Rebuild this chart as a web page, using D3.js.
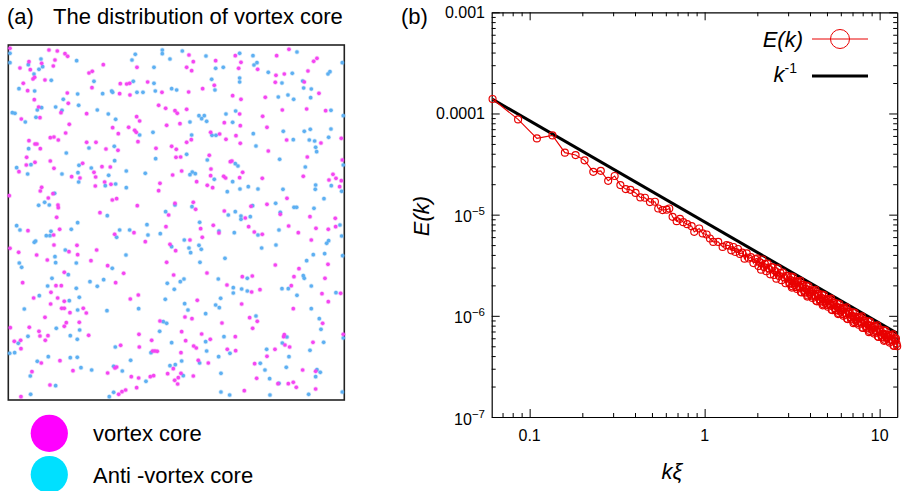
<!DOCTYPE html>
<html><head><meta charset="utf-8">
<script src="https://cdn.jsdelivr.net/npm/d3@7"></script>
<style>
body{margin:0;background:#fff}
svg{display:block}
text{font-family:"Liberation Sans",Arial,Helvetica,sans-serif;fill:#000}
</style>
</head><body>
<svg id="chart" width="902" height="491"></svg>
<script>
// ---- Panel (a): vortex core positions in box units (0..1008 x 0..1065) ----
const vortexCores = [[5,10],[122,15],[147,18],[170,26],[178,34],[100,55],[62,50],[35,69],[66,74],[135,63],[140,45],[74,102],[79,97],[110,105],[45,115],[58,137],[242,84],[252,79],[285,59],[251,128],[177,144],[180,175],[78,164],[91,186],[158,203],[39,222],[95,218],[235,206],[313,248],[330,266],[336,116],[355,117],[364,115],[365,150],[334,146],[418,111],[386,67],[461,142],[451,181],[472,190],[475,241],[385,215],[394,228],[361,247],[379,256],[384,262],[389,290],[183,238],[172,264],[126,278],[137,276],[150,285],[62,287],[80,297],[86,297],[96,311],[235,292],[263,292],[293,312],[329,316],[55,337],[54,360],[80,352],[32,380],[126,348],[137,370],[190,395],[223,355],[257,382],[262,396],[215,399],[281,365],[306,366],[443,310],[100,427],[96,438],[134,446],[120,459],[149,480],[150,488],[3,452],[261,423],[289,411],[308,418],[455,415],[451,437],[387,482],[325,461],[312,465],
[542,30],[555,50],[535,67],[550,77],[622,47],[681,32],[698,52],[691,70],[748,73],[805,32],[842,13],[916,49],[926,40],[899,78],[828,87],[803,91],[801,112],[888,111],[618,121],[583,131],[541,141],[673,152],[698,163],[771,157],[932,145],[500,197],[507,205],[535,193],[515,236],[648,233],[694,207],[696,242],[763,214],[776,247],[822,195],[895,192],[952,197],[607,262],[634,267],[549,284],[535,292],[653,283],[683,272],[696,295],[835,285],[938,294],[999,280],[490,304],[504,313],[503,337],[517,336],[603,331],[780,318],[666,350],[671,348],[608,372],[607,392],[646,394],[652,399],[694,398],[703,382],[493,390],[520,378],[565,410],[597,421],[613,428],[762,400],[897,336],[885,394],[962,405],[974,388],[983,400],[994,425],[999,407],[1002,345],[836,460],[500,475],[555,472],[562,493],[728,484],[776,478],
[145,517],[275,503],[481,510],[59,557],[136,570],[154,553],[5,610],[31,622],[137,600],[85,630],[182,620],[206,601],[208,629],[117,645],[265,615],[248,647],[43,713],[168,682],[143,722],[159,722],[128,742],[76,759],[148,759],[168,769],[127,777],[160,790],[168,790],[185,803],[225,790],[234,804],[298,662],[346,685],[322,713],[319,568],[377,563],[411,590],[473,545],[475,652],[366,762],[390,750],[110,817],[174,833],[168,844],[213,832],[241,871],[6,848],[63,847],[92,859],[95,873],[119,872],[111,886],[18,889],[37,886],[38,911],[392,868],[393,906],[430,886],[455,828],[337,901],[433,918],[440,918],[447,919],[99,954],[155,947],[194,977],[320,969],[325,966],[298,984],[369,995],[391,999],[426,995],[436,992],[478,986],[71,980],[125,1020],[38,1055],[331,1048],[341,1040],[352,1035],[385,1028],
[648,498],[711,519],[816,508],[905,515],[981,520],[982,545],[960,553],[923,550],[841,543],[870,563],[615,541],[577,551],[632,564],[721,545],[738,561],[762,568],[545,585],[582,577],[485,598],[502,617],[909,585],[959,658],[801,660],[872,671],[857,695],[849,722],[950,700],[941,746],[960,770],[997,745],[496,690],[596,684],[656,720],[702,695],[732,693],[730,741],[755,734],[700,777],[567,766],[530,816],[551,821],[724,818],[747,829],[733,850],[855,791],[641,834],[681,875],[520,860],[532,887],[580,867],[606,883],[556,903],[564,909],[657,913],[682,917],[518,923],[570,946],[600,954],[495,971],[518,985],[510,998],[508,1017],[499,1006],[555,993],[708,1037],[922,1032],[809,1016],[840,1016],[855,1012],[864,1027],[745,1000],[739,956],[776,934],[800,913],[830,900],[826,875],[844,906],[828,869],[914,892],[883,975],[922,979],[1005,868],[943,835]];

const antiVortexCores = [[5,25],[5,53],[205,47],[98,42],[103,65],[60,59],[92,73],[77,87],[129,106],[32,131],[79,138],[257,109],[208,147],[165,163],[211,181],[100,188],[87,195],[142,186],[161,196],[12,203],[20,205],[51,231],[83,217],[267,195],[300,207],[322,223],[375,109],[386,142],[404,142],[310,138],[313,142],[283,146],[437,115],[437,67],[371,45],[381,28],[462,15],[462,26],[441,138],[394,270],[434,262],[61,311],[174,324],[242,309],[318,304],[68,359],[25,368],[58,387],[161,387],[212,361],[249,369],[209,383],[211,411],[319,347],[301,391],[354,378],[411,385],[442,341],[139,445],[109,472],[91,481],[123,480],[291,422],[322,417],[354,428],
[485,42],[522,18],[593,33],[622,70],[645,67],[694,25],[734,32],[737,60],[746,53],[866,21],[1002,53],[959,87],[965,80],[852,85],[780,82],[821,114],[883,108],[610,103],[620,135],[694,99],[694,111],[505,135],[490,131],[810,156],[839,150],[856,163],[886,129],[909,132],[907,158],[545,231],[572,212],[580,221],[588,212],[595,229],[653,207],[673,232],[682,198],[968,196],[1005,212],[825,259],[888,259],[906,253],[968,252],[611,271],[623,271],[550,270],[735,266],[743,303],[855,284],[903,285],[919,288],[961,277],[922,307],[925,320],[535,328],[597,345],[681,356],[689,363],[618,403],[673,410],[545,389],[552,381],[561,386],[720,425],[749,432],[695,432],[657,440],[814,343],[891,366],[922,420],[921,433],[969,422],[1000,439],[1005,360],[824,433],[947,461],[500,480],[551,485],[733,482],[802,475],[857,487],[865,487],[917,490],
[297,512],[472,500],[25,542],[35,555],[114,572],[125,572],[128,559],[189,553],[208,533],[78,592],[82,588],[140,635],[171,615],[204,654],[142,653],[33,654],[40,667],[131,700],[180,689],[118,723],[93,752],[183,767],[48,792],[208,795],[213,757],[204,730],[245,710],[267,724],[286,704],[312,670],[353,630],[325,577],[334,555],[364,555],[416,539],[419,570],[456,566],[477,715],[471,763],[391,791],[296,797],[144,850],[214,855],[186,872],[207,883],[59,874],[30,895],[19,923],[4,925],[465,830],[475,835],[454,859],[321,906],[367,946],[428,923],[120,935],[87,949],[186,938],[207,937],[218,968],[250,975],[316,964],[342,978],[413,1009],[66,993],[142,1022],[67,1048],[303,1055],[316,1042],
[660,510],[681,500],[698,513],[698,523],[726,515],[816,502],[995,540],[1000,573],[812,555],[574,532],[632,558],[749,570],[678,563],[528,585],[572,601],[579,613],[490,605],[542,609],[547,623],[760,609],[803,600],[955,595],[961,587],[1003,632],[949,626],[915,629],[895,647],[885,692],[888,700],[821,731],[840,731],[866,751],[909,723],[983,743],[498,733],[516,710],[527,702],[575,652],[630,702],[675,728],[675,744],[700,732],[717,700],[717,738],[650,640],[529,776],[539,795],[622,780],[633,788],[637,760],[592,806],[743,813],[909,791],[647,875],[592,890],[595,918],[490,893],[665,925],[631,935],[520,948],[574,954],[501,959],[485,962],[525,992],[638,985],[638,1041],[664,1050],[785,1050],[901,1048],[1002,1041],[812,1015],[784,1001],[756,955],[770,975],[775,913],[822,894],[836,876],[842,935],[834,967],[905,916],[946,892],[926,974],[922,995],[936,982],[1005,879],[938,853],[933,821]];

const boxSize = [1008, 1065];
const legendA = ["vortex core", "Anti -vortex core"];

// ---- Panel (b): energy spectrum E(k) versus k*xi ----
const kXi = [0.0614,0.0859,0.110,0.135,0.159,0.183,0.206,0.231,0.255,0.281,0.306,0.330,0.354,0.377,0.403,0.429,0.456,0.487,0.520,0.543,0.575,0.607,0.628,0.656,0.692,0.723,0.755,0.795,0.843,0.872,0.931,0.974,1.027,1.072,1.120,1.196,1.267,1.336,
1.38,1.42,1.46,1.50,1.55,1.59,1.64,1.69,1.74,1.79,1.84,1.90,1.95,
2.00,2.03,2.07,2.10,2.14,2.18,2.21,2.25,2.29,2.33,2.37,2.41,2.45,2.49,2.53,2.57,2.62,2.66,2.71,2.75,2.80,2.85,2.90,2.94,2.99,
3.05,3.07,3.10,3.12,3.15,3.17,3.20,3.23,3.26,3.28,3.31,3.34,3.37,3.40,3.43,3.46,3.49,3.52,3.55,3.58,3.61,3.64,3.67,3.70,3.73,3.76,3.79,3.82,3.86,3.89,3.92,3.95,3.99,4.02,
4.06,4.09,4.13,4.16,4.20,4.23,4.27,4.30,4.34,4.38,4.42,4.45,4.49,4.53,4.57,4.61,4.65,4.69,4.73,4.77,4.81,4.85,4.89,4.93,4.97,5.01,
5.06,5.10,5.14,5.18,5.23,5.27,5.32,5.36,5.41,5.45,5.50,5.55,5.60,5.64,5.69,5.74,5.79,5.84,5.89,5.94,5.99,6.04,
6.09,6.14,6.20,6.25,6.30,6.35,6.41,6.46,6.52,6.57,6.63,6.68,6.74,6.80,6.86,6.91,6.97,7.03,
7.09,7.15,7.21,7.27,7.34,7.40,7.46,7.52,7.59,7.65,7.72,7.78,7.85,7.91,7.98,8.05,
8.12,8.19,8.26,8.33,8.40,8.47,8.54,8.61,8.69,8.76,8.83,8.90,8.98,9.06,
9.14,9.21,9.29,9.37,9.45,9.53,9.61,9.69,9.78,9.86,9.94,10.0,
10.1,10.2,10.3,10.4,10.5,10.55,10.6,10.7,10.8,10.9,11.0,11.1,11.2,11.3,11.4,11.5,11.6,11.7,11.8,11.9,12.0,12.1,12.2,12.3,12.4,12.5,12.6];
const energy = [1.39e-4,8.74e-5,5.67e-5,6.07e-5,4.10e-5,3.88e-5,3.44e-5,2.65e-5,2.71e-5,2.16e-5,2.41e-5,1.96e-5,1.79e-5,1.76e-5,1.64e-5,1.48e-5,1.47e-5,1.33e-5,1.34e-5,1.15e-5,1.11e-5,1.12e-5,1.15e-5,9.51e-6,8.62e-6,9.09e-6,8.43e-6,8.05e-6,7.70e-6,6.76e-6,7.30e-6,6.52e-6,6.37e-6,5.81e-6,5.38e-6,5.38e-6,4.80e-6,4.99e-6,
4.93e-6,4.44e-6,4.79e-6,4.27e-6,4.58e-6,4.09e-6,4.21e-6,3.67e-6,4.14e-6,3.69e-6,3.80e-6,3.32e-6,3.64e-6,
3.70e-6,3.10e-6,3.38e-6,2.86e-6,3.60e-6,3.03e-6,3.26e-6,2.76e-6,3.28e-6,2.92e-6,2.57e-6,3.03e-6,3.02e-6,2.53e-6,2.77e-6,2.33e-6,2.94e-6,2.48e-6,2.66e-6,2.25e-6,2.68e-6,2.39e-6,2.10e-6,2.48e-6,2.47e-6,
2.07e-6,2.12e-6,2.26e-6,2.44e-6,1.90e-6,1.96e-6,2.41e-6,2.20e-6,2.02e-6,2.10e-6,2.18e-6,1.92e-6,1.84e-6,2.15e-6,2.19e-6,1.94e-6,1.95e-6,2.22e-6,1.72e-6,1.70e-6,2.02e-6,1.92e-6,2.02e-6,1.78e-6,1.69e-6,1.73e-6,1.85e-6,1.99e-6,1.55e-6,1.59e-6,1.96e-6,1.80e-6,1.65e-6,1.72e-6,
1.77e-6,1.56e-6,1.50e-6,1.75e-6,1.79e-6,1.58e-6,1.59e-6,1.81e-6,1.41e-6,1.39e-6,1.65e-6,1.57e-6,1.65e-6,1.46e-6,1.38e-6,1.41e-6,1.51e-6,1.62e-6,1.27e-6,1.30e-6,1.60e-6,1.46e-6,1.35e-6,1.40e-6,1.45e-6,1.28e-6,
1.23e-6,1.43e-6,1.46e-6,1.29e-6,1.30e-6,1.48e-6,1.15e-6,1.14e-6,1.35e-6,1.28e-6,1.35e-6,1.19e-6,1.13e-6,1.15e-6,1.23e-6,1.32e-6,1.04e-6,1.06e-6,1.31e-6,1.20e-6,1.10e-6,1.14e-6,
1.18e-6,1.04e-6,1.00e-6,1.17e-6,1.19e-6,1.06e-6,1.06e-6,1.21e-6,9.36e-7,9.28e-7,1.10e-6,1.05e-6,1.10e-6,9.71e-7,9.18e-7,9.41e-7,1.00e-6,1.08e-6,
8.46e-7,8.67e-7,1.07e-6,9.77e-7,8.99e-7,9.32e-7,9.65e-7,8.51e-7,8.17e-7,9.54e-7,9.72e-7,8.61e-7,8.66e-7,9.86e-7,7.64e-7,7.58e-7,
8.99e-7,8.55e-7,8.96e-7,7.92e-7,7.50e-7,7.67e-7,8.20e-7,8.83e-7,6.90e-7,7.08e-7,8.72e-7,7.98e-7,7.35e-7,7.62e-7,
7.88e-7,6.95e-7,6.67e-7,7.79e-7,7.94e-7,7.03e-7,7.08e-7,8.05e-7,6.24e-7,6.19e-7,7.34e-7,7.00e-7,
7.33e-7,6.47e-7,6.12e-7,6.25e-7,6.67e-7,7.20e-7,5.66e-7,5.79e-7,7.13e-7,6.51e-7,6.00e-7,6.22e-7,6.43e-7,5.66e-7,5.44e-7,6.35e-7,6.47e-7,5.73e-7,5.76e-7,6.55e-7,5.08e-7,5.04e-7,5.98e-7,5.69e-7,5.97e-7,5.28e-7,5.00e-7];

// k^-1 reference line
const refK = [0.0614, 12.6];
const refE = [1.38e-4, 6.72e-7];

const xMajorTicks = [0.1, 1, 10];
const xTickLabels = ["0.1", "1", "10"];
const yMajorTicks = [1e-3, 1e-4, 1e-5, 1e-6, 1e-7];
const yTickLabels = [["0.001"], ["0.0001"], ["10", "\u22125"], ["10", "\u22126"], ["10", "\u22127"]];

const svg = d3.select("#chart");

// ================= Panel (a) =================
const ax = d3.scaleLinear().domain([0, boxSize[0]]).range([8.3, 344.3]);
const ay = d3.scaleLinear().domain([0, boxSize[1]]).range([45, 400]);

svg.append("text").attr("x", 7).attr("y", 24).attr("font-size", 22).text("(a)");
svg.append("text").attr("x", 53).attr("y", 24).attr("font-size", 22).text("The distribution of vortex core");

const gA = svg.append("g");
gA.append("rect")
  .attr("x", ax(0)).attr("y", ay(0))
  .attr("width", ax(boxSize[0]) - ax(0)).attr("height", ay(boxSize[1]) - ay(0))
  .attr("fill", "#fff").attr("stroke", "#222").attr("stroke-width", 1.6);

function drawCores(data, color) {
  gA.append("g").selectAll("circle").data(data).join("circle")
    .attr("cx", d => ax(d[0])).attr("cy", d => ay(d[1]))
    .attr("r", 1.8)
    .attr("fill", color)
    .attr("stroke", color).attr("stroke-opacity", 0.3).attr("stroke-width", 1.4);
}
drawCores(antiVortexCores, "#5eb0f2");
drawCores(vortexCores, "#f446f2");

// legend
const legColors = ["#ff00ff", "#00e0ff"];
const legY = [433.3, 474.5];
const legBase = [440.5, 482.5];
legendA.forEach((t, i) => {
  svg.append("circle").attr("cx", 49.3).attr("cy", legY[i]).attr("r", 18.6).attr("fill", legColors[i]);
  svg.append("text").attr("x", 93).attr("y", legBase[i]).attr("font-size", 22).text(t);
});

// ================= Panel (b) =================
const x = d3.scaleLog().domain([0.0607, 12.6]).range([491.7, 897.2]);
const y = d3.scaleLog().domain([1e-7, 1e-3]).range([417, 12.3]);
const [x0, x1] = x.range();
const [y0, y1] = y.range();

svg.append("text").attr("x", 401).attr("y", 24).attr("font-size", 22).text("(b)");

const isDecade = v => Math.abs(Math.log10(v) - Math.round(Math.log10(v))) < 1e-6;
const xMinor = x.ticks().filter(v => !isDecade(v));
const yMinor = y.ticks().filter(v => !isDecade(v));

function drawAxis(axisFn, scale, tx, ty, majors, minors) {
  const gMin = svg.append("g").attr("transform", `translate(${tx},${ty})`)
    .call(axisFn(scale).tickValues(minors).tickSizeInner(-4).tickSizeOuter(0).tickFormat(""));
  gMin.select(".domain").remove();
  const gMaj = svg.append("g").attr("transform", `translate(${tx},${ty})`)
    .call(axisFn(scale).tickValues(majors).tickSizeInner(-8).tickSizeOuter(0).tickFormat(""));
  [gMin, gMaj].forEach(g => {
    g.selectAll("line").attr("stroke", "#000").attr("stroke-width", 1);
    g.selectAll(".domain").attr("stroke", "#000").attr("stroke-width", 1.2);
  });
}
drawAxis(d3.axisBottom, x, 0, y0, xMajorTicks, xMinor);
drawAxis(d3.axisTop, x, 0, y1, xMajorTicks, xMinor);
drawAxis(d3.axisLeft, y, x0, 0, yMajorTicks, yMinor);
drawAxis(d3.axisRight, y, x1, 0, yMajorTicks, yMinor);

// tick labels
xMajorTicks.forEach((v, i) => {
  svg.append("text").attr("x", x(v)).attr("y", 441).attr("text-anchor", "middle")
    .attr("font-size", 16).text(xTickLabels[i]);
});
yMajorTicks.forEach((v, i) => {
  const lab = yTickLabels[i];
  const t = svg.append("text").attr("x", 485).attr("text-anchor", "end").attr("font-size", 16);
  if (lab.length === 1) {
    t.attr("y", y(v) + 5.5).text(lab[0]);
  } else {
    t.attr("y", y(v) + 7.6);
    t.append("tspan").text(lab[0]);
    t.append("tspan").attr("dy", -7).attr("font-size", 11.5).text(lab[1]);
  }
});

// axis titles
svg.append("text").attr("x", 672).attr("y", 479).attr("text-anchor", "middle")
  .attr("font-size", 22).attr("font-style", "italic").text("k\u03BE");
svg.append("text").attr("transform", "translate(429,216) rotate(-90)").attr("text-anchor", "middle")
  .attr("font-size", 22).attr("font-style", "italic").text("E(k)");

// plotted series
const plot = svg.append("g");
const logLine = d3.line().x(d => x(d[0])).y(d => y(d[1]));
plot.append("path").datum(refK.map((k, i) => [k, refE[i]]))
  .attr("d", logLine).attr("fill", "none").attr("stroke", "#000").attr("stroke-width", 3);

const spec = kXi.map((k, i) => [k, energy[i]]);
plot.append("path").datum(spec).attr("d", logLine)
  .attr("fill", "none").attr("stroke", "#e80000").attr("stroke-width", 1.1);
plot.append("g").selectAll("circle").data(spec).join("circle")
  .attr("cx", d => x(d[0])).attr("cy", d => y(d[1])).attr("r", 3.5)
  .attr("fill", "none").attr("stroke", "#e80000").attr("stroke-width", 1.15);

// legend (b)
svg.append("text").attr("x", 803).attr("y", 47).attr("text-anchor", "end")
  .attr("font-size", 22).attr("font-style", "italic").text("E(k)");
svg.append("line").attr("x1", 812).attr("x2", 868).attr("y1", 39).attr("y2", 39)
  .attr("stroke", "#e80000").attr("stroke-width", 1);
svg.append("circle").attr("cx", 840).attr("cy", 39).attr("r", 9.5)
  .attr("fill", "none").attr("stroke", "#e80000").attr("stroke-width", 1);
const kt = svg.append("text").attr("x", 797).attr("y", 81.5).attr("text-anchor", "end").attr("font-size", 22);
kt.append("tspan").attr("font-style", "italic").text("k");
kt.append("tspan").attr("dy", -9).attr("font-size", 14).text("-1");
svg.append("line").attr("x1", 812).attr("x2", 868).attr("y1", 76).attr("y2", 76)
  .attr("stroke", "#000").attr("stroke-width", 3);
</script>
</body></html>
